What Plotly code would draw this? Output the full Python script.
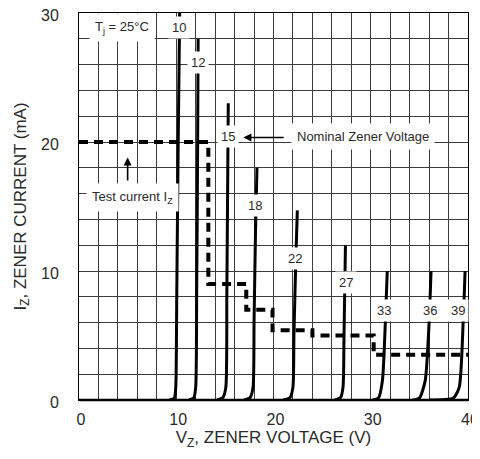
import plotly.graph_objects as go

# ---- data ----
curve_names = ["10", "12", "15", "18", "22", "27", "33", "36", "39"]
curve_v = [
    [9.3, 9.8, 9.95, 10.05, 10.2, 10.35],
    [11.3, 11.8, 12.0, 12.1, 12.2, 12.25],
    [14.2, 14.8, 15.1, 15.2, 15.3, 15.35],
    [17.0, 17.6, 17.9, 18.0, 18.15, 18.3],
    [21.0, 21.7, 22.0, 22.1, 22.3, 22.45],
    [26.3, 26.9, 27.15, 27.25, 27.4],
    [30.2, 30.8, 31.2, 31.5, 31.7],
    [34.3, 35.0, 35.6, 36.0, 36.2],
    [36.0, 38.5, 39.1, 39.5, 39.7],
]
curve_i = [
    [0, 0.15, 1.0, 8, 20, 30],
    [0, 0.15, 1.0, 8, 20, 28],
    [0, 0.2, 1.0, 8, 18, 23],
    [0, 0.2, 1.0, 6, 13, 18],
    [0, 0.2, 1.0, 5, 11, 14.7],
    [0, 0.2, 1.0, 5, 12],
    [0, 0.15, 1.5, 6, 10],
    [0, 0.15, 1.5, 6, 10],
    [0, 0.15, 1.0, 6, 10],
]
label_v = [10.3, 12.2, 15.3, 18.1, 22.2, 27.5, 31.4, 36.1, 39.0]
label_i = [28.9, 26.2, 20.4, 15.1, 11.0, 9.1, 6.9, 6.9, 6.9]

test_v = [0, 13.3, 13.3, 17.2, 17.2, 19.9, 19.9, 24.0, 24.0, 30.3, 30.3, 40]
test_i = [20, 20, 9, 9, 7, 7, 5.4, 5.4, 5.0, 5.0, 3.5, 3.5]

x_ticks = [0, 10, 20, 30, 40]
y_ticks = [0, 10, 20, 30]

FONT = "Liberation Sans, Arial, sans-serif"
TXT = "#2a2a2a"

fig = go.Figure()
for name, v, i in zip(curve_names, curve_v, curve_i):
    fig.add_trace(go.Scatter(x=v, y=i, mode="lines", name=name,
                             line=dict(color="black", width=3, shape="spline", smoothing=0.6),
                             showlegend=False, hoverinfo="skip"))
fig.add_trace(go.Scatter(x=test_v, y=test_i, mode="lines", name="Test current",
                         line=dict(color="black", width=4, dash="9px,6px"),
                         showlegend=False, hoverinfo="skip"))

ann = []
for name, v, i in zip(curve_names, label_v, label_i):
    ann.append(dict(x=v, y=i, text=name, showarrow=False, bgcolor="white",
                    borderpad=3, font=dict(family=FONT, size=13, color=TXT)))
ann.append(dict(x=4.4, y=28.9, text="T<sub>j</sub> = 25°C", showarrow=False,
                bgcolor="white", borderpad=5, font=dict(family=FONT, size=13, color=TXT)))
ann.append(dict(x=29.2, y=20.4, text="Nominal Zener Voltage", showarrow=False,
                bgcolor="white", borderpad=5, font=dict(family=FONT, size=13, color=TXT)))
ann.append(dict(x=16.9, y=20.35, ax=21.2, ay=20.35, axref="x", ayref="y", text="",
                showarrow=True, arrowhead=2, arrowsize=1, arrowwidth=1.6, arrowcolor="black"))
ann.append(dict(x=5.45, y=15.7, text="Test current I<sub>Z</sub>", showarrow=False,
                bgcolor="white", borderpad=5, font=dict(family=FONT, size=13, color=TXT)))
ann.append(dict(x=5.0, y=18.8, ax=5.0, ay=16.9, axref="x", ayref="y", text="",
                showarrow=True, arrowhead=2, arrowsize=1, arrowwidth=1.6, arrowcolor="black"))

grid = "#3c3c3c"
fig.update_layout(
    width=472, height=443, autosize=False,
    margin=dict(l=71, r=12, t=5, b=51),
    paper_bgcolor="white", plot_bgcolor="white",
    template="none",
    font=dict(family=FONT, color=TXT, size=14),
    annotations=ann,
    xaxis=dict(range=[0, 40], tickmode="array", tickvals=x_ticks,
               showgrid=True, gridcolor=grid, gridwidth=1,
               minor=dict(tickmode="linear", tick0=0, dtick=2, showgrid=True, gridcolor=grid, gridwidth=1),
               showline=True, linecolor="black", linewidth=1, mirror=True,
               ticks="", ticklabelstandoff=5, ticklabelshift=2, zeroline=False, ticklabeloverflow="allow",
               tickfont=dict(size=16, color=TXT),
               title=dict(text="V<sub>Z</sub>, ZENER VOLTAGE (V)", font=dict(size=17, color=TXT), standoff=2)),
    yaxis=dict(range=[0, 30], tickmode="array", tickvals=y_ticks,
               showgrid=True, gridcolor=grid, gridwidth=1,
               minor=dict(tickmode="linear", tick0=0, dtick=2, showgrid=True, gridcolor=grid, gridwidth=1),
               showline=True, linecolor="black", linewidth=1, mirror=True,
               ticks="", ticklabelstandoff=16, ticklabelshift=2, zeroline=False, ticklabeloverflow="allow",
               tickfont=dict(size=16, color=TXT),
               title=dict(text="I<sub>Z</sub>, ZENER CURRENT (mA)", font=dict(size=17, color=TXT), standoff=10)),
    shapes=[dict(type="line", xref="paper", yref="paper", x0=0, x1=1, y0=0, y1=0,
                 line=dict(color="black", width=2.5), layer="above")],
)

fig.write_html("out.html")
